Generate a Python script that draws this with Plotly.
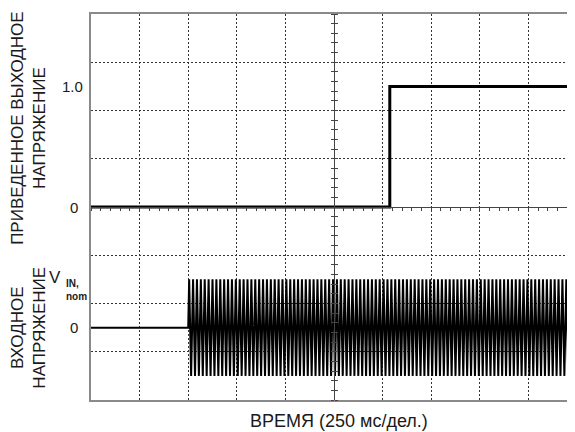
import plotly.graph_objects as go

# ---- data (time in ms, 250 ms per division) ----
x_max_ms = 2500
out_time_ms = [0, 1537, 1537, x_max_ms]
out_norm = [0.0, 0.0, 1.0, 1.0]            # normalised output voltage

in_start_ms = 500                           # input turns on
in_period_ms = 20                           # 50 Hz mains
in_cycle = [0.0, 1.0, 0.0, -1.0]            # one period, in V_IN,nom units

# ---- screen mapping (divisions) ----
OUT_DIV_PER_UNIT = 2.5
IN_ZERO_DIV = -2.5
IN_DIV_PER_UNIT = 1.0

in_t = [0, in_start_ms]
in_v = [0.0, 0.0]
step = in_period_ms / len(in_cycle)
t = in_start_ms
k = 0
while t <= x_max_ms:
    in_t.append(t)
    in_v.append(in_cycle[k % len(in_cycle)])
    t += step
    k += 1

out_y = [v * OUT_DIV_PER_UNIT for v in out_norm]
in_y = [IN_ZERO_DIV + v * IN_DIV_PER_UNIT for v in in_v]

FONT = "Liberation Sans, Arial, sans-serif"
TXT = "#1a1a1a"
GRID = "#333333"
FRAME = "#8a8a8a"

fig = go.Figure()
fig.add_trace(go.Scatter(x=in_t, y=in_y, mode="lines",
                         line=dict(color="black", width=2), showlegend=False,
                         hoverinfo="skip"))
fig.add_trace(go.Scatter(x=out_time_ms, y=out_y, mode="lines",
                         line=dict(color="black", width=3), showlegend=False,
                         hoverinfo="skip"))

center_pos = 0.5

fig.update_layout(
    width=575, height=432,
    margin=dict(l=83, r=6, t=6, b=40, autoexpand=False),
    paper_bgcolor="white", plot_bgcolor="white",
    font=dict(family=FONT, size=15, color=TXT),
    xaxis=dict(range=[0, x_max_ms], dtick=250, tick0=0, showgrid=True,
               gridcolor=GRID, griddash="2px,2px", gridwidth=1,
               showticklabels=False, ticks="", zeroline=False, automargin=False,
               showline=True, linecolor=FRAME, linewidth=1.5, mirror=True),
    yaxis=dict(range=[-4, 4], dtick=1, tick0=0, showgrid=True,
               gridcolor=GRID, griddash="2px,2px", gridwidth=1,
               showticklabels=False, ticks="", zeroline=False, automargin=False,
               showline=True, linecolor=FRAME, linewidth=1.5, mirror=False),
    # centre graticule lines with minor ticks
    xaxis2=dict(overlaying="x", anchor="free", position=0.5, automargin=False,
                range=[0, x_max_ms], dtick=50, tick0=0, ticks="outside",
                ticklen=3, tickcolor="#444", showticklabels=False,
                showgrid=False, zeroline=False, showline=True,
                linecolor="#444", linewidth=1),
    yaxis2=dict(overlaying="y", anchor="free", position=center_pos, automargin=False,
                range=[-4, 4], dtick=0.2, tick0=0, ticks="outside",
                ticklen=3, tickcolor="#444", showticklabels=False,
                showgrid=False, zeroline=False, showline=True,
                linecolor="#444", linewidth=1),
    yaxis3=dict(overlaying="y", anchor="free", position=center_pos, automargin=False,
                side="right", range=[-4, 4], dtick=0.2, tick0=0,
                ticks="outside", ticklen=3, tickcolor="#444",
                showticklabels=False, showgrid=False, zeroline=False,
                showline=False),
)

# invisible traces to activate overlay axes
fig.add_trace(go.Scatter(x=[0], y=[0], xaxis="x2", yaxis="y2", mode="markers",
                         marker=dict(opacity=0), showlegend=False, hoverinfo="skip"))
fig.add_trace(go.Scatter(x=[0], y=[0], xaxis="x", yaxis="y3", mode="markers",
                         marker=dict(opacity=0), showlegend=False, hoverinfo="skip"))

ann = []
# value labels
for yv, txt, xs in [(1.0 * OUT_DIV_PER_UNIT, "1.0", -19), (0.0, "0", -17),
                    (IN_ZERO_DIV, "0", -17)]:
    ann.append(dict(x=0, xref="paper", y=yv, yref="y", text=txt, showarrow=False,
                    xanchor="center", yanchor="middle", xshift=xs,
                    font=dict(size=15)))
ann.append(dict(x=0, xref="paper", y=IN_ZERO_DIV + IN_DIV_PER_UNIT, yref="y",
                text="V", showarrow=False, xanchor="right", yanchor="middle",
                xshift=-28, yshift=2, font=dict(size=17)))
ann.append(dict(x=0, xref="paper", y=IN_ZERO_DIV + IN_DIV_PER_UNIT, yref="y",
                text="<b>IN,<br>nom</b>", showarrow=False, xanchor="left",
                yanchor="top", xshift=-27, yshift=3, align="left",
                font=dict(size=10)))
# axis titles
ann.append(dict(x=0, xref="paper", y=1.64, yref="y",
                text="ПРИВЕДЕННОЕ ВЫХОДНОЕ<br>НАПРЯЖЕНИЕ", textangle=-90,
                showarrow=False, xanchor="center", yanchor="middle",
                xshift=-62, font=dict(size=17)))
ann.append(dict(x=0, xref="paper", y=IN_ZERO_DIV, yref="y",
                text="ВХОДНОЕ<br>НАПРЯЖЕНИЕ", textangle=-90,
                showarrow=False, xanchor="center", yanchor="middle",
                xshift=-62, font=dict(size=17)))
ann.append(dict(x=0.5, xref="paper", y=0, yref="paper",
                text="ВРЕМЯ (250 мс/дел.)", showarrow=False,
                xanchor="center", yanchor="middle", yshift=-21, xshift=5,
                font=dict(size=18)))
fig.update_layout(annotations=ann)

fig.write_html("out.html")
